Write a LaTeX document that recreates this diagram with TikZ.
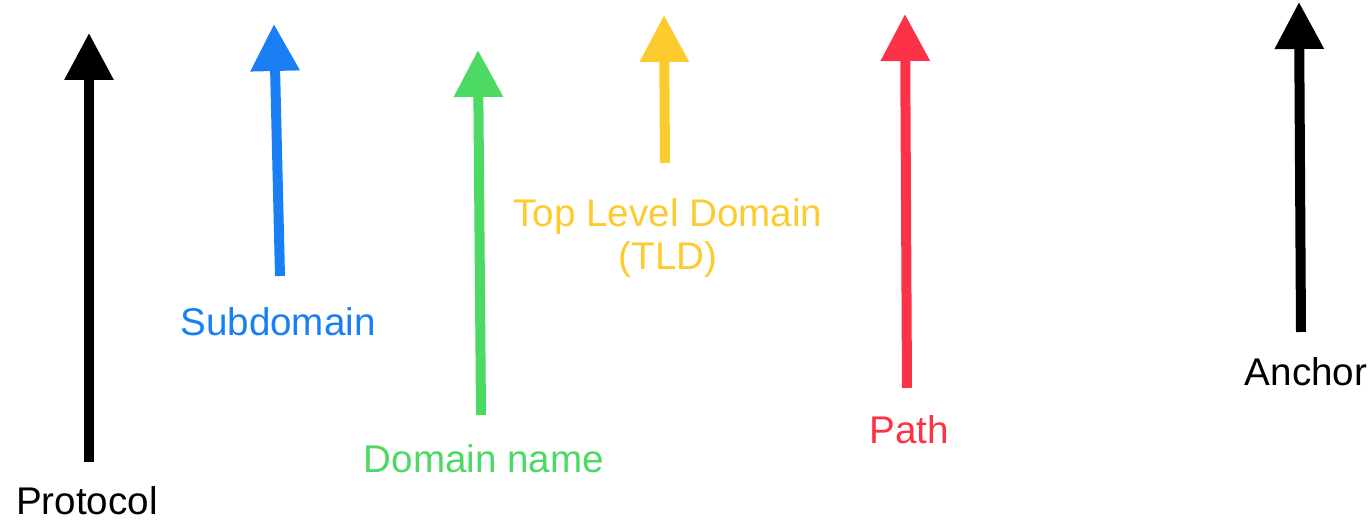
\documentclass[tikz,border=0pt]{standalone}
\usepackage{fontspec}
\setmainfont{Liberation Sans}
\usetikzlibrary{arrows.meta}

\definecolor{protoblack}{HTML}{000000}
\definecolor{subblue}{HTML}{1A7FF5}
\definecolor{domgreen}{HTML}{4CD964}
\definecolor{tldyellow}{HTML}{FECB2F}
\definecolor{pathred}{HTML}{FC3346}

\tikzset{
  urlarrow/.style={line width=5pt, -{Triangle[length=23.5pt, width=23.5pt]}},
  partlabel/.style={anchor=base, inner sep=0pt, font=\fontsize{19.3pt}{23pt}\selectfont, align=center},
}

\begin{document}
\begin{tikzpicture}[x=0.5pt, y=-0.5pt]
  \useasboundingbox (0,0) rectangle (1372,522);

  % shaft ends and tips of the arrows
  \coordinate (protoS) at (89,462);   \coordinate (protoT) at (89,33);
  \coordinate (subS)   at (280,276);  \coordinate (subT)   at (274,24);
  \coordinate (domS)   at (481,415);  \coordinate (domT)   at (478,50);
  \coordinate (tldS)   at (665,163);  \coordinate (tldT)   at (664,15);
  \coordinate (pathS)  at (907,388);  \coordinate (pathT)  at (905,14);
  \coordinate (ancS)   at (1301,332); \coordinate (ancT)   at (1299,2);

  \draw[urlarrow, protoblack] (protoS) -- (protoT);
  \draw[urlarrow, subblue]    (subS)   -- (subT);
  \draw[urlarrow, domgreen]   (domS)   -- (domT);
  \draw[urlarrow, tldyellow]  (tldS)   -- (tldT);
  \draw[urlarrow, pathred]    (pathS)  -- (pathT);
  \draw[urlarrow, protoblack] (ancS)   -- (ancT);

  % labels under the arrows
  \node[partlabel, text=protoblack] (protoL) at (87,515)   {Protocol};
  \node[partlabel, text=subblue]    (subL)   at (278,336)  {Subdomain};
  \node[partlabel, text=domgreen]   (domL)   at (484,473)  {Domain name};
  \node[partlabel, text=tldyellow]  (tldL1)  at (668,227)  {Top Level Domain};
  \node[partlabel, text=tldyellow]  (tldL2)  at (668,270)  {(TLD)};
  \node[partlabel, text=pathred]    (pathL)  at (909,444)  {Path};
  \node[partlabel, text=protoblack] (ancL)   at (1306,386) {Anchor};
\end{tikzpicture}
\end{document}
